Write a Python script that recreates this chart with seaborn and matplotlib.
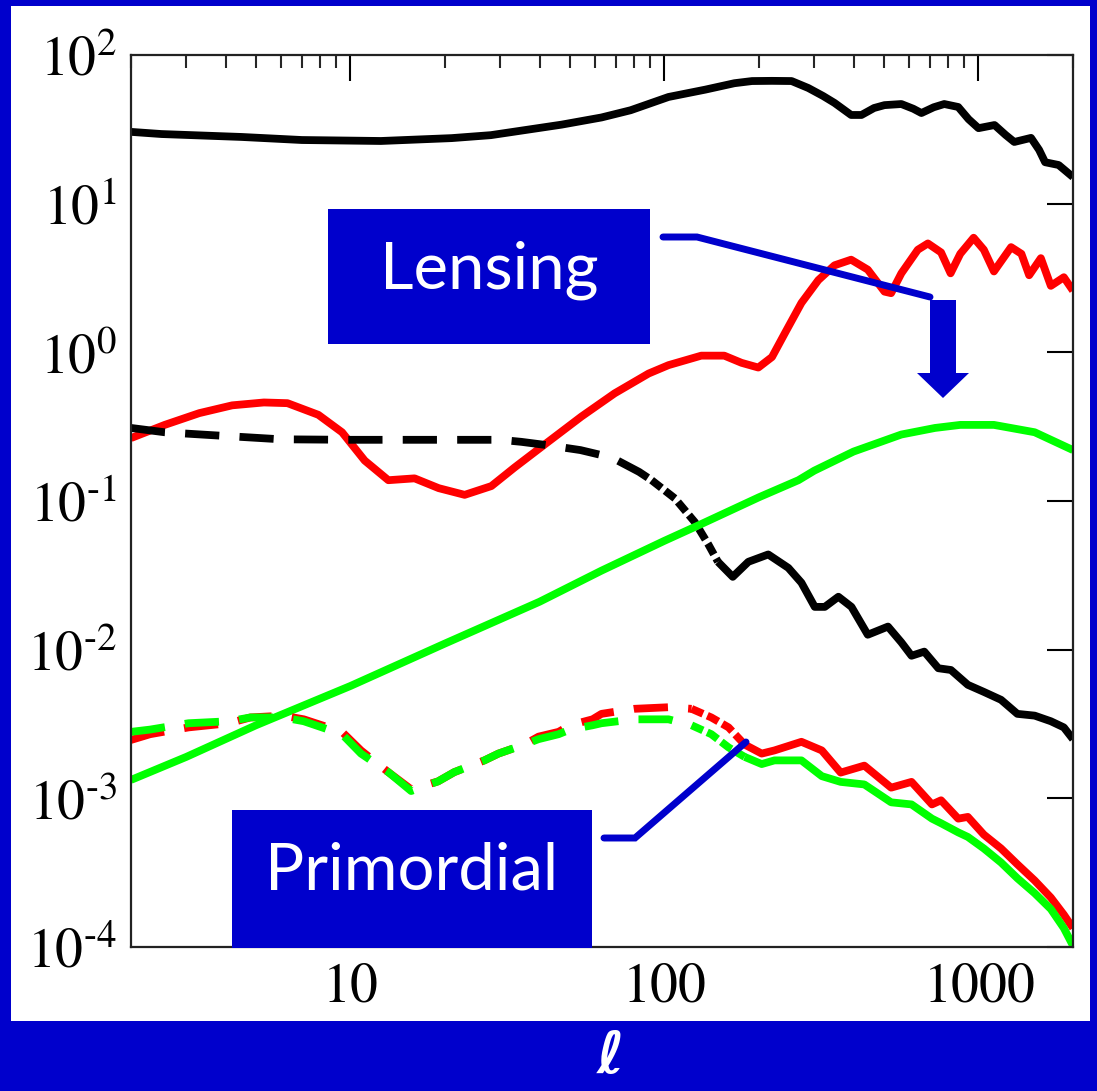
import numpy as np
import pandas as pd
import matplotlib
matplotlib.use("Agg")
import matplotlib.pyplot as plt
import seaborn as sns
from matplotlib.patches import Rectangle, Polygon
from matplotlib.lines import Line2D
from matplotlib.ticker import FixedLocator, FixedFormatter, NullLocator, NullFormatter

# ---------------- data ----------------
black_l = [2, 2.5, 4.5, 7, 12.5, 21, 28, 47, 63, 78, 103, 135, 167, 190, 220, 254, 287, 320, 348,
           393, 424, 465, 502, 568, 620, 658, 720, 778, 862, 930, 1000, 1125, 1220, 1300, 1470,
           1560, 1630, 1800, 2000]
black_v = [30.4, 29.4, 28.1, 26.8, 26.4, 27.6, 28.9, 34.0, 38.0, 42.5, 52.2, 58.5, 64.6, 66.8,
           67.0, 66.8, 60.0, 53.0, 47.6, 39.5, 39.5, 44.0, 46.0, 46.8, 43.5, 40.7, 44.5, 46.8,
           44.7, 37.0, 32.2, 33.8, 29.0, 26.0, 27.7, 23.0, 19.0, 18.2, 15.1]

red_l = [2, 2.56, 3.3, 4.2, 5.3, 6.3, 7.9, 9.4, 11.1, 13.2, 16, 19.1, 23.1, 28.1, 33.3, 42.6,
         54.4, 69.4, 89, 103, 131, 155, 176, 199, 220, 242, 273, 309, 348, 393, 444, 502, 527,
         568, 641, 690, 760, 815, 875, 965, 1040, 1120, 1270, 1370, 1450, 1580, 1700, 1870, 2000]
red_v = [0.265, 0.325, 0.39, 0.44, 0.46, 0.455, 0.38, 0.29, 0.187, 0.138, 0.142, 0.122, 0.110,
         0.126, 0.168, 0.25, 0.37, 0.53, 0.72, 0.82, 0.95, 0.95, 0.85, 0.79, 0.93, 1.35, 2.15,
         3.06, 3.85, 4.2, 3.6, 2.56, 2.5, 3.4, 4.9, 5.4, 4.7, 3.4, 4.6, 5.9, 4.9, 3.5, 5.1, 4.6,
         3.3, 4.3, 2.8, 3.2, 2.6]

bdash_l = [2, 2.56, 3.35, 6, 10, 30, 35, 42.6, 54, 68, 83, 91, 108, 125, 138, 148, 165, 185,
           214, 248, 273, 301, 324, 358, 394, 444, 515, 568, 612, 672, 745, 817, 925, 1040,
           1180, 1330, 1510, 1700, 1870, 2000]
bdash_v = [0.31, 0.29, 0.28, 0.26, 0.258, 0.258, 0.25, 0.237, 0.22, 0.196, 0.157, 0.138, 0.104,
           0.072, 0.051, 0.039, 0.0309, 0.039, 0.0437, 0.0355, 0.0282, 0.0194, 0.0194, 0.0227,
           0.0194, 0.0126, 0.0143, 0.0112, 0.0091, 0.0097, 0.0075, 0.0073, 0.0058, 0.0052,
           0.0046, 0.0037, 0.0036, 0.0033, 0.0030, 0.0025]

glens_l = [2, 3, 5, 10, 20, 40, 63, 100, 131, 200, 267, 300, 400, 568, 727, 875, 1120, 1510, 2000]
glens_v = [0.00133, 0.0019, 0.0031, 0.0057, 0.011, 0.021, 0.034, 0.054, 0.07, 0.106, 0.138,
           0.16, 0.215, 0.28, 0.31, 0.325, 0.325, 0.29, 0.22]

prim_l = [2, 2.3, 3.05, 4.1, 4.8, 6.1, 7.1, 9.4, 10.8, 13.2, 15.6, 19, 21.4, 26.7, 29.6, 35.8,
          39.7, 46, 50, 59, 63, 80, 103, 122, 141, 160, 180, 204, 224, 273, 317, 364, 433, 527,
          612, 711, 760, 862, 925, 1040, 1180, 1330, 1510, 1700, 1870, 2000]
prim_red_v = [0.00247, 0.0027, 0.0030, 0.0032, 0.0035, 0.0036, 0.0034, 0.0028, 0.0021, 0.0015,
              0.00115, 0.0013, 0.0015, 0.0018, 0.0020, 0.0023, 0.0026, 0.0028, 0.0031, 0.0034,
              0.0037, 0.0040, 0.0041, 0.0040, 0.0035, 0.0030, 0.0023, 0.0020, 0.0021, 0.0024,
              0.0021, 0.00149, 0.00166, 0.00118, 0.00129, 0.00091, 0.00097, 0.00073, 0.00075,
              0.00057, 0.00046, 0.00036, 0.00028, 0.000215, 0.000165, 0.000134]
prim_green_v = [0.0028, 0.0029, 0.0032, 0.0033, 0.0035, 0.0035, 0.0033, 0.0027, 0.0020, 0.0015,
                0.00112, 0.0013, 0.0015, 0.0018, 0.0020, 0.0023, 0.0025, 0.0027, 0.0029, 0.0031,
                0.0032, 0.0034, 0.0034, 0.0031, 0.0027, 0.0022, 0.0019, 0.0017, 0.0018, 0.0018,
                0.00141, 0.00129, 0.00124, 0.00094, 0.00091, 0.00073, 0.00068, 0.00059, 0.00055,
                0.00046, 0.00037, 0.00029, 0.00023, 0.00018, 0.000134, 0.000102]

x_ticks = [10, 100, 1000]
x_tick_labels = ["$10$", "$100$", "$1000$"]
y_ticks = [1e-4, 1e-3, 1e-2, 1e-1, 1e0, 1e1, 1e2]
y_tick_labels = ["$10^{\u20104}$", "$10^{\u20103}$", "$10^{\u20102}$", "$10^{\u20101}$",
                 "$10^{0}$", "$10^{1}$", "$10^{2}$"]

# ---------------- style ----------------
sns.set_style("white")
plt.rcParams["mathtext.fontset"] = "stix"
plt.rcParams["font.family"] = ["DejaVu Sans"]

W, H = 1097, 1091
BLUE = "#0000CC"
GREEN = "#00FF00"
RED = "#FF0000"
LW = 5.6
DASH = (0, (4.4, 2.6))
SHORT = (0, (1.6, 0.6))


def fx(x):
    return x / W


def fy(y):
    return 1 - y / H


fig = plt.figure(figsize=(W / 100, H / 100), dpi=100, facecolor=BLUE)
fig.add_artist(Rectangle((fx(11), fy(1021)), (1090 - 11) / W, (1021 - 6) / H,
                         transform=fig.transFigure, facecolor="white", edgecolor="none", zorder=-5))

ax = fig.add_axes([fx(131), fy(947), (1073 - 131) / W, (947 - 55) / H])
ax.set_facecolor("white")
ax.set_xscale("log")
ax.set_yscale("log")


def draw(xs, ys, color, splits=None):
    xs = np.asarray(xs, float)
    ys = np.asarray(ys, float)
    if splits is None:
        segs = [(xs.min(), xs.max(), "-")]
    else:
        a, b = splits
        segs = [(xs.min(), a, DASH), (a, b, SHORT), (b, xs.max(), "-")]
    for lo, hi, ls in segs:
        m = (xs >= lo) & (xs <= hi)
        df = pd.DataFrame({"l": xs[m], "v": ys[m]})
        sns.lineplot(data=df, x="l", y="v", ax=ax, color=color, linewidth=LW,
                     linestyle=ls, estimator=None, sort=False,
                     solid_capstyle="butt", dash_capstyle="butt",
                     solid_joinstyle="round", legend=False)


draw(black_l, black_v, "black")
draw(red_l, red_v, RED)
draw(bdash_l, bdash_v, "black", splits=(91, 148))
draw(glens_l, glens_v, GREEN)
draw(prim_l, prim_red_v, RED, splits=(122, 180))
draw(prim_l, prim_green_v, GREEN, splits=(122, 180))

ax.set_xlim(2, 2000)
ax.set_ylim(1e-4, 1e2)
ax.set_xlabel("")
ax.set_ylabel("")

ax.xaxis.set_major_locator(FixedLocator(x_ticks))
ax.xaxis.set_major_formatter(FixedFormatter(x_tick_labels))
minor = [m * 10 ** e for e in range(0, 4) for m in range(2, 10) if 2 <= m * 10 ** e <= 2000]
ax.xaxis.set_minor_locator(FixedLocator(minor))
ax.xaxis.set_minor_formatter(NullFormatter())
ax.yaxis.set_major_locator(FixedLocator(y_ticks))
ax.yaxis.set_major_formatter(FixedFormatter(y_tick_labels))
ax.yaxis.set_minor_locator(NullLocator())

ax.tick_params(which="major", direction="in", length=19, width=1.5, top=True, right=True,
               labelsize=40, pad=10, colors="black")
ax.tick_params(which="minor", direction="in", length=9.5, width=1.5, top=True, right=True)
ax.tick_params(axis="x", pad=9)
for s in ax.spines.values():
    s.set_linewidth(1.6)
    s.set_color("#222222")

# ---------------- annotations ----------------
fig.add_artist(Rectangle((fx(328), fy(344)), (650 - 328) / W, (344 - 209) / H,
                         transform=fig.transFigure, facecolor=BLUE, edgecolor="none", zorder=5))
fig.text(fx(489), fy(289), "Lensing", color="white", fontsize=47, family=["Lato", "DejaVu Sans"],
         ha="center", va="baseline", zorder=6)
fig.add_artist(Line2D([fx(663), fx(697), fx(930)], [fy(237), fy(237), fy(297)],
                      transform=fig.transFigure, color=BLUE, lw=5.0, zorder=5,
                      solid_joinstyle="miter"))
arrow_pts = [(930, 300), (956, 300), (956, 373), (969, 373), (943, 398), (917, 373), (930, 373)]
fig.add_artist(Polygon([(fx(a), fy(b)) for a, b in arrow_pts], closed=True,
                       transform=fig.transFigure, facecolor=BLUE, edgecolor="none", zorder=5))

fig.add_artist(Rectangle((fx(232), fy(948)), (592 - 232) / W, (948 - 810) / H,
                         transform=fig.transFigure, facecolor=BLUE, edgecolor="none", zorder=5))
fig.text(fx(412), fy(890), "Primordial", color="white", fontsize=47, family=["Lato", "DejaVu Sans"],
         ha="center", va="baseline", zorder=6)
fig.add_artist(Line2D([fx(604), fx(635), fx(746)], [fy(838), fy(838), fy(742)],
                      transform=fig.transFigure, color=BLUE, lw=5.0, zorder=5,
                      solid_joinstyle="miter"))

fig.text(fx(611), fy(1057), "ℓ", color="white", fontsize=42, fontweight="bold", fontstyle="italic",
         family=["DejaVu Sans"], ha="center", va="center", zorder=6)

fig.savefig("out.png", dpi=100, facecolor=BLUE)
